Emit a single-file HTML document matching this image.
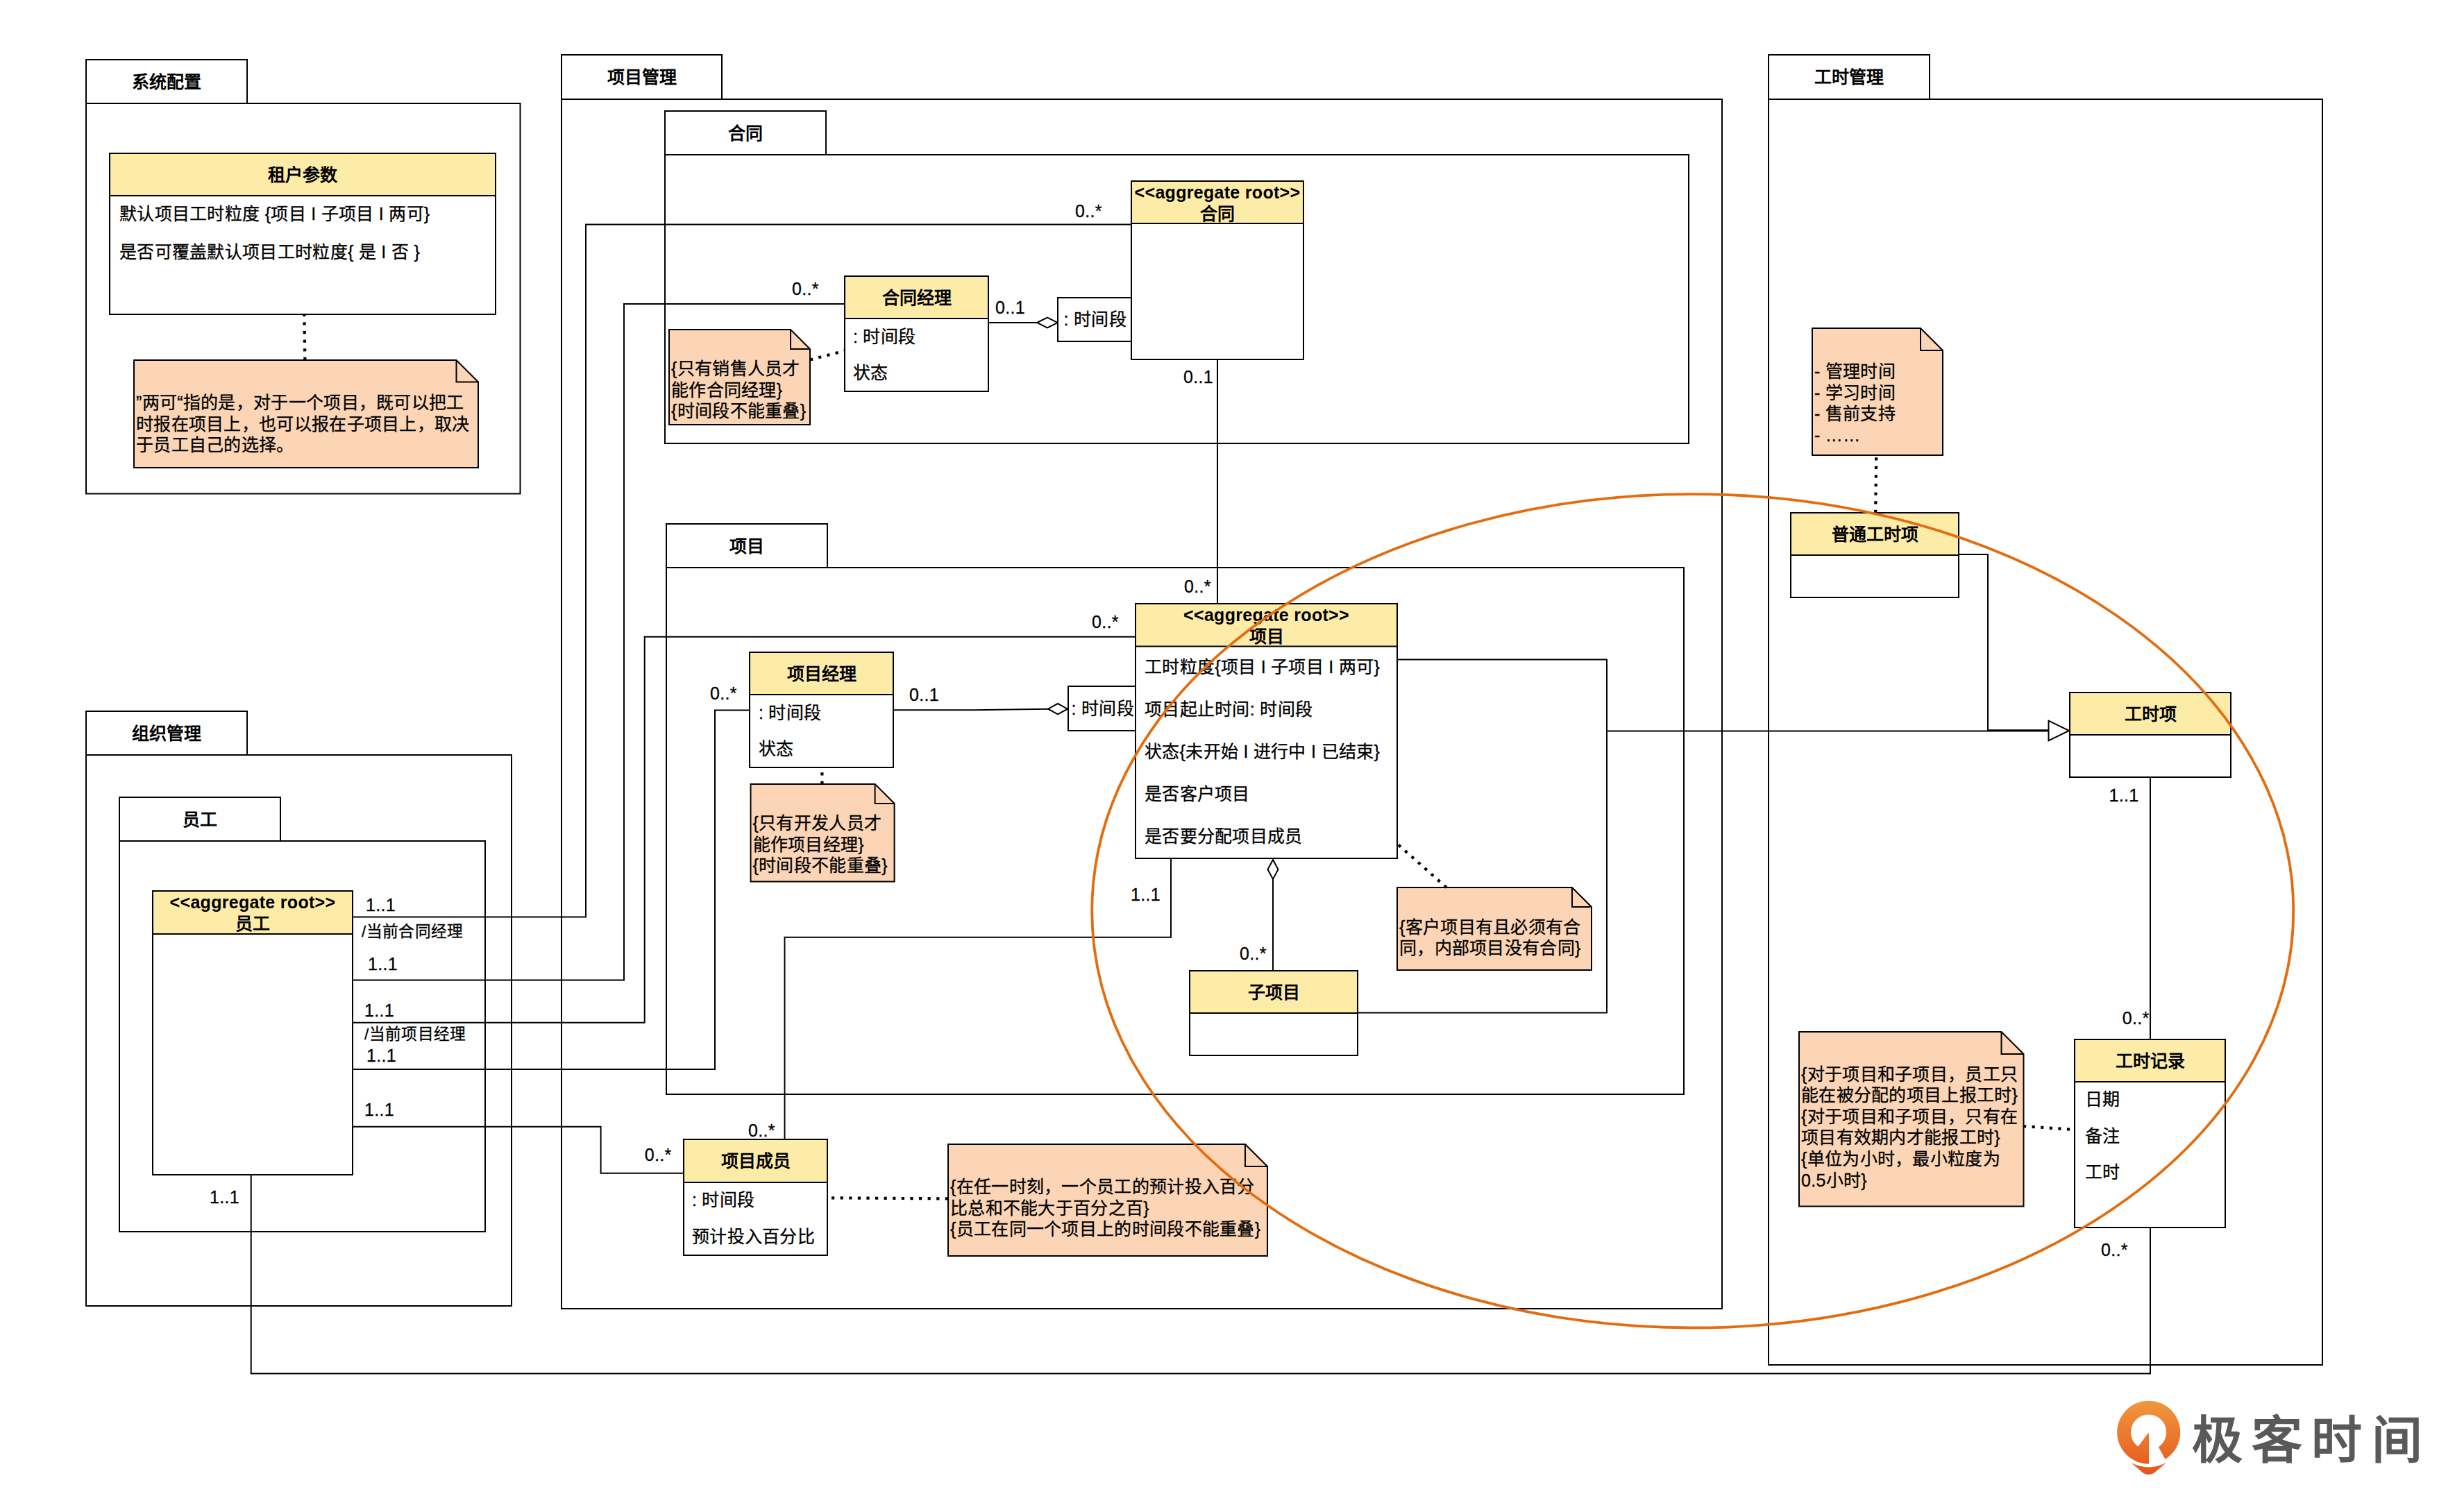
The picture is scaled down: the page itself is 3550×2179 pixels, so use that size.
<!DOCTYPE html><html lang="zh-CN"><head><meta charset="utf-8"><style>html,body{margin:0;padding:0;background:#fff;width:3550px;height:2179px;overflow:hidden}svg{display:block;font-family:"Liberation Sans",sans-serif}</style></head><body>
<svg width="3550" height="2179" viewBox="0 0 3550 2179">
<rect x="124" y="86" width="232" height="63" fill="#fff" stroke="#000" stroke-width="2"/>
<rect x="124" y="149" width="625.5" height="562.5" fill="#fff" stroke="#000" stroke-width="2"/>
<text x="240.0" y="126.5" font-size="25" font-weight="bold" text-anchor="middle" fill="#000">系统配置</text>
<rect x="809" y="79" width="231" height="64" fill="#fff" stroke="#000" stroke-width="2"/>
<rect x="809" y="143" width="1672" height="1743" fill="#fff" stroke="#000" stroke-width="2"/>
<text x="924.5" y="120.0" font-size="25" font-weight="bold" text-anchor="middle" fill="#000">项目管理</text>
<rect x="958" y="160" width="232" height="63" fill="#fff" stroke="#000" stroke-width="2"/>
<rect x="958" y="223" width="1475" height="416" fill="#fff" stroke="#000" stroke-width="2"/>
<text x="1074.0" y="200.5" font-size="25" font-weight="bold" text-anchor="middle" fill="#000">合同</text>
<rect x="960" y="755" width="232" height="63" fill="#fff" stroke="#000" stroke-width="2"/>
<rect x="960" y="818" width="1466" height="759" fill="#fff" stroke="#000" stroke-width="2"/>
<text x="1076.0" y="795.5" font-size="25" font-weight="bold" text-anchor="middle" fill="#000">项目</text>
<rect x="2548" y="79" width="232" height="64" fill="#fff" stroke="#000" stroke-width="2"/>
<rect x="2548" y="143" width="798" height="1824" fill="#fff" stroke="#000" stroke-width="2"/>
<text x="2664.0" y="120.0" font-size="25" font-weight="bold" text-anchor="middle" fill="#000">工时管理</text>
<rect x="124" y="1025" width="232" height="63" fill="#fff" stroke="#000" stroke-width="2"/>
<rect x="124" y="1088" width="613" height="794" fill="#fff" stroke="#000" stroke-width="2"/>
<text x="240.0" y="1065.5" font-size="25" font-weight="bold" text-anchor="middle" fill="#000">组织管理</text>
<rect x="172" y="1149" width="232" height="63" fill="#fff" stroke="#000" stroke-width="2"/>
<rect x="172" y="1212" width="527" height="563" fill="#fff" stroke="#000" stroke-width="2"/>
<text x="288.0" y="1189.5" font-size="25" font-weight="bold" text-anchor="middle" fill="#000">员工</text>
<polyline points="508,1321.5 844,1321.5 844,323.5 1630,323.5" fill="none" stroke="#000" stroke-width="2" stroke-linejoin="miter"/>
<polyline points="508,1412.6 899,1412.6 899,438 1217,438" fill="none" stroke="#000" stroke-width="2" stroke-linejoin="miter"/>
<polyline points="508,1473.7 928.7,1473.7 928.7,917.7 1636,917.7" fill="none" stroke="#000" stroke-width="2" stroke-linejoin="miter"/>
<polyline points="508,1541 1030,1541 1030,1023.5 1080,1023.5" fill="none" stroke="#000" stroke-width="2" stroke-linejoin="miter"/>
<polyline points="508,1623.8 865.6,1623.8 865.6,1690.7 985.4,1690.7" fill="none" stroke="#000" stroke-width="2" stroke-linejoin="miter"/>
<polyline points="1687,1237 1687,1350.7 1130.5,1350.7 1130.5,1642" fill="none" stroke="#000" stroke-width="2" stroke-linejoin="miter"/>
<polyline points="1754,518 1754,870" fill="none" stroke="#000" stroke-width="2" stroke-linejoin="miter"/>
<polyline points="1424,465 1494,465" fill="none" stroke="#000" stroke-width="2" stroke-linejoin="miter"/>
<path d="M1494,465 L1509,457.5 L1524,465 L1509,472.5 Z" fill="#fff" stroke="#000" stroke-width="2"/>
<polyline points="1287,1023.3 1403,1023.3 1510,1021.7" fill="none" stroke="#000" stroke-width="2" stroke-linejoin="miter"/>
<path d="M1510,1021.7 L1524,1014 L1538,1021.7 L1524,1029.4 Z" fill="#fff" stroke="#000" stroke-width="2"/>
<polyline points="1834,1267 1834,1399" fill="none" stroke="#000" stroke-width="2" stroke-linejoin="miter"/>
<path d="M1834,1239 L1841.5,1253 L1834,1267 L1826.5,1253 Z" fill="#fff" stroke="#000" stroke-width="2"/>
<polyline points="2013,950.5 2315,950.5 2315,1459.6 1956,1459.6" fill="none" stroke="#000" stroke-width="2" stroke-linejoin="miter"/>
<polyline points="2315,1053.4 2951.5,1053.4" fill="none" stroke="#000" stroke-width="2" stroke-linejoin="miter"/>
<polyline points="2822,799 2864,799 2864,1052.3 2951.5,1052.3" fill="none" stroke="#000" stroke-width="2" stroke-linejoin="miter"/>
<path d="M2951.5,1038.6 L2981,1053 L2951.5,1067.5 Z" fill="#fff" stroke="#000" stroke-width="2"/>
<polyline points="3098,1120 3098,1498" fill="none" stroke="#000" stroke-width="2" stroke-linejoin="miter"/>
<polyline points="361.7,1693 361.7,1979.6 3098,1979.6 3098,1769.4" fill="none" stroke="#000" stroke-width="2" stroke-linejoin="miter"/>
<rect x="158" y="221" width="556" height="232" fill="#fff" stroke="#000" stroke-width="2"/>
<rect x="158" y="221" width="556" height="61" fill="#FDECA8" stroke="#000" stroke-width="2"/>
<text x="436.0" y="260.5" font-size="25" font-weight="bold" text-anchor="middle" fill="#000">租户参数</text>
<text x="172" y="317.0" font-size="25" stroke="#000" stroke-width="0.3" letter-spacing="0.3" text-anchor="start" fill="#000">默认项目工时粒度 {项目 I 子项目 I 两可}</text>
<text x="172" y="372.0" font-size="25" stroke="#000" stroke-width="0.3" letter-spacing="0.3" text-anchor="start" fill="#000">是否可覆盖默认项目工时粒度{ 是 I 否 }</text>
<rect x="1630" y="261" width="248" height="257" fill="#fff" stroke="#000" stroke-width="2"/>
<rect x="1630" y="261" width="248" height="61" fill="#FDECA8" stroke="#000" stroke-width="2"/>
<text x="1754.0" y="286.0" font-size="25" font-weight="bold" letter-spacing="0.3" text-anchor="middle" fill="#000">&lt;&lt;aggregate root&gt;&gt;</text>
<text x="1754.0" y="317.0" font-size="25" font-weight="bold" text-anchor="middle" fill="#000">合同</text>
<rect x="1217" y="398" width="207" height="166" fill="#fff" stroke="#000" stroke-width="2"/>
<rect x="1217" y="398" width="207" height="61" fill="#FDECA8" stroke="#000" stroke-width="2"/>
<text x="1320.5" y="437.5" font-size="25" font-weight="bold" text-anchor="middle" fill="#000">合同经理</text>
<text x="1229" y="493.6" font-size="25" stroke="#000" stroke-width="0.3" letter-spacing="0.3" text-anchor="start" fill="#000">: 时间段</text>
<text x="1229" y="546.0" font-size="25" stroke="#000" stroke-width="0.3" letter-spacing="0.3" text-anchor="start" fill="#000">状态</text>
<rect x="1524" y="429" width="106" height="63" fill="#fff" stroke="#000" stroke-width="2"/>
<text x="1532.5" y="469.0" font-size="25" stroke="#000" stroke-width="0.3" letter-spacing="0.3" text-anchor="start" fill="#000">: 时间段</text>
<rect x="1080" y="940" width="207" height="166" fill="#fff" stroke="#000" stroke-width="2"/>
<rect x="1080" y="940" width="207" height="61" fill="#FDECA8" stroke="#000" stroke-width="2"/>
<text x="1183.5" y="979.5" font-size="25" font-weight="bold" text-anchor="middle" fill="#000">项目经理</text>
<text x="1093" y="1035.6" font-size="25" stroke="#000" stroke-width="0.3" letter-spacing="0.3" text-anchor="start" fill="#000">: 时间段</text>
<text x="1093" y="1087.6" font-size="25" stroke="#000" stroke-width="0.3" letter-spacing="0.3" text-anchor="start" fill="#000">状态</text>
<rect x="1539" y="989" width="97" height="64" fill="#fff" stroke="#000" stroke-width="2"/>
<text x="1543.5" y="1030.0" font-size="25" stroke="#000" stroke-width="0.3" letter-spacing="0.3" text-anchor="start" fill="#000">: 时间段</text>
<rect x="1636" y="870" width="377" height="367" fill="#fff" stroke="#000" stroke-width="2"/>
<rect x="1636" y="870" width="377" height="61.5" fill="#FDECA8" stroke="#000" stroke-width="2"/>
<text x="1824.5" y="895.0" font-size="25" font-weight="bold" letter-spacing="0.3" text-anchor="middle" fill="#000">&lt;&lt;aggregate root&gt;&gt;</text>
<text x="1824.5" y="926.0" font-size="25" font-weight="bold" text-anchor="middle" fill="#000">项目</text>
<text x="1649" y="970.0" font-size="25" stroke="#000" stroke-width="0.3" letter-spacing="0.3" text-anchor="start" fill="#000">工时粒度{项目 I 子项目 I 两可}</text>
<text x="1649" y="1030.9" font-size="25" stroke="#000" stroke-width="0.3" letter-spacing="0.3" text-anchor="start" fill="#000">项目起止时间: 时间段</text>
<text x="1649" y="1091.8" font-size="25" stroke="#000" stroke-width="0.3" letter-spacing="0.3" text-anchor="start" fill="#000">状态{未开始 I 进行中 I 已结束}</text>
<text x="1649" y="1152.7" font-size="25" stroke="#000" stroke-width="0.3" letter-spacing="0.3" text-anchor="start" fill="#000">是否客户项目</text>
<text x="1649" y="1213.6" font-size="25" stroke="#000" stroke-width="0.3" letter-spacing="0.3" text-anchor="start" fill="#000">是否要分配项目成员</text>
<rect x="1714" y="1399" width="242" height="122" fill="#fff" stroke="#000" stroke-width="2"/>
<rect x="1714" y="1399" width="242" height="61" fill="#FDECA8" stroke="#000" stroke-width="2"/>
<text x="1835.0" y="1438.5" font-size="25" font-weight="bold" text-anchor="middle" fill="#000">子项目</text>
<rect x="2580" y="739" width="242" height="122" fill="#fff" stroke="#000" stroke-width="2"/>
<rect x="2580" y="739" width="242" height="61" fill="#FDECA8" stroke="#000" stroke-width="2"/>
<text x="2701.0" y="778.5" font-size="25" font-weight="bold" text-anchor="middle" fill="#000">普通工时项</text>
<rect x="2982" y="998" width="232" height="122" fill="#fff" stroke="#000" stroke-width="2"/>
<rect x="2982" y="998" width="232" height="61" fill="#FDECA8" stroke="#000" stroke-width="2"/>
<text x="3098.0" y="1037.5" font-size="25" font-weight="bold" text-anchor="middle" fill="#000">工时项</text>
<rect x="2989" y="1498" width="217" height="271" fill="#fff" stroke="#000" stroke-width="2"/>
<rect x="2989" y="1498" width="217" height="61" fill="#FDECA8" stroke="#000" stroke-width="2"/>
<text x="3097.5" y="1537.5" font-size="25" font-weight="bold" text-anchor="middle" fill="#000">工时记录</text>
<text x="3004" y="1593.0" font-size="25" stroke="#000" stroke-width="0.3" letter-spacing="0.3" text-anchor="start" fill="#000">日期</text>
<text x="3004" y="1645.5" font-size="25" stroke="#000" stroke-width="0.3" letter-spacing="0.3" text-anchor="start" fill="#000">备注</text>
<text x="3004" y="1698.0" font-size="25" stroke="#000" stroke-width="0.3" letter-spacing="0.3" text-anchor="start" fill="#000">工时</text>
<rect x="220" y="1284" width="288" height="409" fill="#fff" stroke="#000" stroke-width="2"/>
<rect x="220" y="1284" width="288" height="62" fill="#FDECA8" stroke="#000" stroke-width="2"/>
<text x="364.0" y="1309.0" font-size="25" font-weight="bold" letter-spacing="0.3" text-anchor="middle" fill="#000">&lt;&lt;aggregate root&gt;&gt;</text>
<text x="364.0" y="1340.0" font-size="25" font-weight="bold" text-anchor="middle" fill="#000">员工</text>
<rect x="985" y="1642" width="207" height="167" fill="#fff" stroke="#000" stroke-width="2"/>
<rect x="985" y="1642" width="207" height="62" fill="#FDECA8" stroke="#000" stroke-width="2"/>
<text x="1088.5" y="1682.0" font-size="25" font-weight="bold" text-anchor="middle" fill="#000">项目成员</text>
<text x="997" y="1738.0" font-size="25" stroke="#000" stroke-width="0.3" letter-spacing="0.3" text-anchor="start" fill="#000">: 时间段</text>
<text x="997" y="1791.0" font-size="25" stroke="#000" stroke-width="0.3" letter-spacing="0.3" text-anchor="start" fill="#000">预计投入百分比</text>
<path d="M193,519 L657.5,519 L689,550.5 L689,674 L193,674 Z" fill="#FBD5B5" stroke="#000" stroke-width="2" stroke-linejoin="miter"/>
<path d="M657.5,519 L657.5,550.5 L689,550.5" fill="none" stroke="#000" stroke-width="2"/>
<text x="196" y="589.0" font-size="25" stroke="#000" stroke-width="0.3" letter-spacing="0.3" text-anchor="start" fill="#000">”两可“指的是，对于一个项目，既可以把工</text>
<text x="196" y="619.6" font-size="25" stroke="#000" stroke-width="0.3" letter-spacing="0.3" text-anchor="start" fill="#000">时报在项目上，也可以报在子项目上，取决</text>
<text x="196" y="650.2" font-size="25" stroke="#000" stroke-width="0.3" letter-spacing="0.3" text-anchor="start" fill="#000">于员工自己的选择。</text>
<path d="M964,475 L1139,475 L1167,503 L1167,612 L964,612 Z" fill="#FBD5B5" stroke="#000" stroke-width="2" stroke-linejoin="miter"/>
<path d="M1139,475 L1139,503 L1167,503" fill="none" stroke="#000" stroke-width="2"/>
<text x="967" y="540.0" font-size="25" stroke="#000" stroke-width="0.3" letter-spacing="0.3" text-anchor="start" fill="#000">{只有销售人员才</text>
<text x="967" y="570.6" font-size="25" stroke="#000" stroke-width="0.3" letter-spacing="0.3" text-anchor="start" fill="#000">能作合同经理}</text>
<text x="967" y="601.2" font-size="25" stroke="#000" stroke-width="0.3" letter-spacing="0.3" text-anchor="start" fill="#000">{时间段不能重叠}</text>
<path d="M1081.5,1130 L1260.6,1130 L1288.6,1158 L1288.6,1270.4 L1081.5,1270.4 Z" fill="#FBD5B5" stroke="#000" stroke-width="2" stroke-linejoin="miter"/>
<path d="M1260.6,1130 L1260.6,1158 L1288.6,1158" fill="none" stroke="#000" stroke-width="2"/>
<text x="1084.5" y="1195.0" font-size="25" stroke="#000" stroke-width="0.3" letter-spacing="0.3" text-anchor="start" fill="#000">{只有开发人员才</text>
<text x="1084.5" y="1225.6" font-size="25" stroke="#000" stroke-width="0.3" letter-spacing="0.3" text-anchor="start" fill="#000">能作项目经理}</text>
<text x="1084.5" y="1256.2" font-size="25" stroke="#000" stroke-width="0.3" letter-spacing="0.3" text-anchor="start" fill="#000">{时间段不能重叠}</text>
<path d="M2013,1279 L2265,1279 L2293,1307 L2293,1398 L2013,1398 Z" fill="#FBD5B5" stroke="#000" stroke-width="2" stroke-linejoin="miter"/>
<path d="M2265,1279 L2265,1307 L2293,1307" fill="none" stroke="#000" stroke-width="2"/>
<text x="2016" y="1344.7" font-size="25" stroke="#000" stroke-width="0.3" letter-spacing="0.3" text-anchor="start" fill="#000">{客户项目有且必须有合</text>
<text x="2016" y="1375.3" font-size="25" stroke="#000" stroke-width="0.3" letter-spacing="0.3" text-anchor="start" fill="#000">同，内部项目没有合同}</text>
<path d="M1366,1649 L1794,1649 L1826,1681 L1826,1810 L1366,1810 Z" fill="#FBD5B5" stroke="#000" stroke-width="2" stroke-linejoin="miter"/>
<path d="M1794,1649 L1794,1681 L1826,1681" fill="none" stroke="#000" stroke-width="2"/>
<text x="1369" y="1719.0" font-size="25" stroke="#000" stroke-width="0.3" letter-spacing="0.3" text-anchor="start" fill="#000">{在任一时刻，一个员工的预计投入百分</text>
<text x="1369" y="1749.6" font-size="25" stroke="#000" stroke-width="0.3" letter-spacing="0.3" text-anchor="start" fill="#000">比总和不能大于百分之百}</text>
<text x="1369" y="1780.2" font-size="25" stroke="#000" stroke-width="0.3" letter-spacing="0.3" text-anchor="start" fill="#000">{员工在同一个项目上的时间段不能重叠}</text>
<path d="M2611,473 L2767,473 L2799,505 L2799,656 L2611,656 Z" fill="#FBD5B5" stroke="#000" stroke-width="2" stroke-linejoin="miter"/>
<path d="M2767,473 L2767,505 L2799,505" fill="none" stroke="#000" stroke-width="2"/>
<text x="2614" y="544.0" font-size="25" stroke="#000" stroke-width="0.3" letter-spacing="0.3" text-anchor="start" fill="#000">- 管理时间</text>
<text x="2614" y="574.6" font-size="25" stroke="#000" stroke-width="0.3" letter-spacing="0.3" text-anchor="start" fill="#000">- 学习时间</text>
<text x="2614" y="605.2" font-size="25" stroke="#000" stroke-width="0.3" letter-spacing="0.3" text-anchor="start" fill="#000">- 售前支持</text>
<text x="2614" y="635.8" font-size="25" stroke="#000" stroke-width="0.3" letter-spacing="0.3" text-anchor="start" fill="#000">- ……</text>
<path d="M2592,1487 L2883.5,1487 L2915.5,1519 L2915.5,1738.6 L2592,1738.6 Z" fill="#FBD5B5" stroke="#000" stroke-width="2" stroke-linejoin="miter"/>
<path d="M2883.5,1487 L2883.5,1519 L2915.5,1519" fill="none" stroke="#000" stroke-width="2"/>
<text x="2595" y="1556.5" font-size="25" stroke="#000" stroke-width="0.3" letter-spacing="0.3" text-anchor="start" fill="#000">{对于项目和子项目，员工只</text>
<text x="2595" y="1587.1" font-size="25" stroke="#000" stroke-width="0.3" letter-spacing="0.3" text-anchor="start" fill="#000">能在被分配的项目上报工时}</text>
<text x="2595" y="1617.7" font-size="25" stroke="#000" stroke-width="0.3" letter-spacing="0.3" text-anchor="start" fill="#000">{对于项目和子项目，只有在</text>
<text x="2595" y="1648.3" font-size="25" stroke="#000" stroke-width="0.3" letter-spacing="0.3" text-anchor="start" fill="#000">项目有效期内才能报工时}</text>
<text x="2595" y="1678.9" font-size="25" stroke="#000" stroke-width="0.3" letter-spacing="0.3" text-anchor="start" fill="#000">{单位为小时，最小粒度为</text>
<text x="2595" y="1709.5" font-size="25" stroke="#000" stroke-width="0.3" letter-spacing="0.3" text-anchor="start" fill="#000">0.5小时}</text>
<polyline points="439.4,519 438.3,453" fill="none" stroke="#000" stroke-width="4.2" stroke-linejoin="miter" stroke-dasharray="4.2 8.4"/>
<polyline points="1167,518.5 1217,505.5" fill="none" stroke="#000" stroke-width="4.2" stroke-linejoin="miter" stroke-dasharray="4.2 8.4"/>
<polyline points="1184.4,1130 1184.4,1106" fill="none" stroke="#000" stroke-width="4.2" stroke-linejoin="miter" stroke-dasharray="4.2 8.4"/>
<polyline points="2084,1279 2013,1216" fill="none" stroke="#000" stroke-width="4.2" stroke-linejoin="miter" stroke-dasharray="4.2 8.4"/>
<polyline points="1366,1727.4 1192,1726.3" fill="none" stroke="#000" stroke-width="4.2" stroke-linejoin="miter" stroke-dasharray="4.2 8.4"/>
<polyline points="2702.2,739 2703.2,656" fill="none" stroke="#000" stroke-width="4.2" stroke-linejoin="miter" stroke-dasharray="4.2 8.4"/>
<polyline points="2915,1623 2989,1628" fill="none" stroke="#000" stroke-width="4.2" stroke-linejoin="miter" stroke-dasharray="4.2 8.4"/>
<text x="527" y="1313.0" font-size="25" stroke="#000" stroke-width="0.3" letter-spacing="0.3" text-anchor="start" fill="#000">1..1</text>
<text x="521" y="1350.2" font-size="22.7" stroke="#000" stroke-width="0.3" letter-spacing="0.3" text-anchor="start" fill="#000">/当前合同经理</text>
<text x="1549" y="312.5" font-size="25" stroke="#000" stroke-width="0.3" letter-spacing="0.3" text-anchor="start" fill="#000">0..*</text>
<text x="530" y="1397.5" font-size="25" stroke="#000" stroke-width="0.3" letter-spacing="0.3" text-anchor="start" fill="#000">1..1</text>
<text x="1141" y="425.0" font-size="25" stroke="#000" stroke-width="0.3" letter-spacing="0.3" text-anchor="start" fill="#000">0..*</text>
<text x="525" y="1464.5" font-size="25" stroke="#000" stroke-width="0.3" letter-spacing="0.3" text-anchor="start" fill="#000">1..1</text>
<text x="525" y="1498.2" font-size="22.7" stroke="#000" stroke-width="0.3" letter-spacing="0.3" text-anchor="start" fill="#000">/当前项目经理</text>
<text x="1573" y="904.5" font-size="25" stroke="#000" stroke-width="0.3" letter-spacing="0.3" text-anchor="start" fill="#000">0..*</text>
<text x="528" y="1529.5" font-size="25" stroke="#000" stroke-width="0.3" letter-spacing="0.3" text-anchor="start" fill="#000">1..1</text>
<text x="1023" y="1007.8" font-size="25" stroke="#000" stroke-width="0.3" letter-spacing="0.3" text-anchor="start" fill="#000">0..*</text>
<text x="525" y="1607.8" font-size="25" stroke="#000" stroke-width="0.3" letter-spacing="0.3" text-anchor="start" fill="#000">1..1</text>
<text x="928.7" y="1673.3" font-size="25" stroke="#000" stroke-width="0.3" letter-spacing="0.3" text-anchor="start" fill="#000">0..*</text>
<text x="1629" y="1298.2" font-size="25" stroke="#000" stroke-width="0.3" letter-spacing="0.3" text-anchor="start" fill="#000">1..1</text>
<text x="1078" y="1637.5" font-size="25" stroke="#000" stroke-width="0.3" letter-spacing="0.3" text-anchor="start" fill="#000">0..*</text>
<text x="1705" y="551.5" font-size="25" stroke="#000" stroke-width="0.3" letter-spacing="0.3" text-anchor="start" fill="#000">0..1</text>
<text x="1706" y="854.0" font-size="25" stroke="#000" stroke-width="0.3" letter-spacing="0.3" text-anchor="start" fill="#000">0..*</text>
<text x="1434" y="452.0" font-size="25" stroke="#000" stroke-width="0.3" letter-spacing="0.3" text-anchor="start" fill="#000">0..1</text>
<text x="1310" y="1010.3" font-size="25" stroke="#000" stroke-width="0.3" letter-spacing="0.3" text-anchor="start" fill="#000">0..1</text>
<text x="1786" y="1382.8" font-size="25" stroke="#000" stroke-width="0.3" letter-spacing="0.3" text-anchor="start" fill="#000">0..*</text>
<text x="3038.6" y="1154.8" font-size="25" stroke="#000" stroke-width="0.3" letter-spacing="0.3" text-anchor="start" fill="#000">1..1</text>
<text x="3057.8" y="1475.8" font-size="25" stroke="#000" stroke-width="0.3" letter-spacing="0.3" text-anchor="start" fill="#000">0..*</text>
<text x="302" y="1734.3" font-size="25" stroke="#000" stroke-width="0.3" letter-spacing="0.3" text-anchor="start" fill="#000">1..1</text>
<text x="3027" y="1810.2" font-size="25" stroke="#000" stroke-width="0.3" letter-spacing="0.3" text-anchor="start" fill="#000">0..*</text>
<ellipse cx="2438.75" cy="1312.8" rx="865.5" ry="600.7" fill="none" stroke="#E36C0E" stroke-width="3.8"/>
<defs><linearGradient id="lg" gradientUnits="userSpaceOnUse" x1="0" y1="110" x2="0" y2="1445"><stop offset="0" stop-color="#F0983F"/><stop offset="1" stop-color="#E4561A"/></linearGradient></defs>
<g transform="translate(3040,2010) scale(0.0794)"><circle cx="702" cy="682" r="573" fill="url(#lg)"/><circle cx="700" cy="682" r="322" fill="#fff"/><path d="M705,690 L705,1300 L1100,1300 L1000,1165 L885,960 L960,700 Z" fill="#fff"/><path d="M510,942 L688,700 Q705,690 706,712 L706,1240 L560,1210 L440,1000 Z" fill="url(#lg)"/><path d="M385,1235 Q700,1395 1020,1235 L800,1420 Q700,1475 600,1420 Z" fill="url(#lg)"/></g>
<text x="3158" y="2101" font-size="73" font-weight="bold" letter-spacing="13.2" fill="#58595B">极客时间</text>
</svg></body></html>
